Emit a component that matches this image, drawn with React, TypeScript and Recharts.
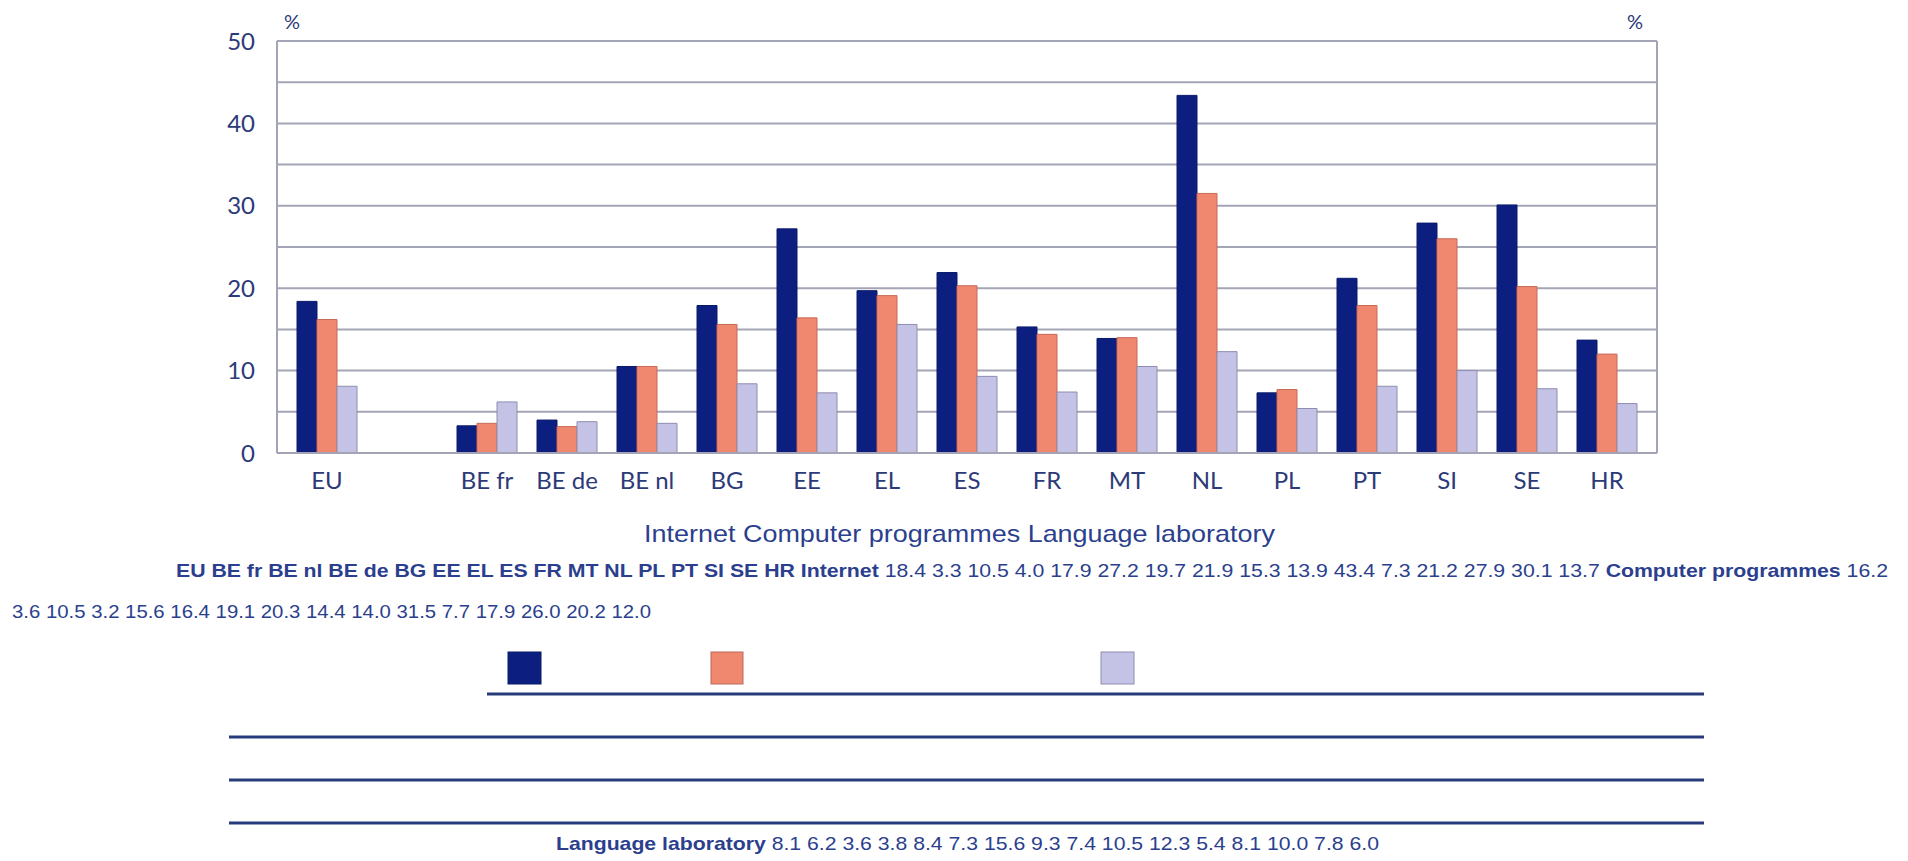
import React from 'react';
import { BarChart, Bar, XAxis, YAxis, CartesianGrid } from 'recharts';

// order used in the data table printed under the chart
const tableCountries = ['EU', 'BE fr', 'BE nl', 'BE de', 'BG', 'EE', 'EL', 'ES', 'FR', 'MT', 'NL', 'PL', 'PT', 'SI', 'SE', 'HR'];
const internet = [18.4, 3.3, 10.5, 4.0, 17.9, 27.2, 19.7, 21.9, 15.3, 13.9, 43.4, 7.3, 21.2, 27.9, 30.1, 13.7];
const computerProgrammes = [16.2, 3.6, 10.5, 3.2, 15.6, 16.4, 19.1, 20.3, 14.4, 14.0, 31.5, 7.7, 17.9, 26.0, 20.2, 12.0];
const languageLab = [8.1, 6.2, 3.6, 3.8, 8.4, 7.3, 15.6, 9.3, 7.4, 10.5, 12.3, 5.4, 8.1, 10.0, 7.8, 6.0];

// order of the bars on the chart ('' is the empty slot after EU)
const chartOrder = ['EU', '', 'BE fr', 'BE de', 'BE nl', 'BG', 'EE', 'EL', 'ES', 'FR', 'MT', 'NL', 'PL', 'PT', 'SI', 'SE', 'HR'];
const seriesNames = ['Internet', 'Computer programmes', 'Language laboratory'];
const yTicks = [0, 10, 20, 30, 40, 50];
const gridValues = [0, 5, 10, 15, 20, 25, 30, 35, 40, 45, 50];

const rows = chartOrder.map((name) => {
  const i = tableCountries.indexOf(name);
  return {
    name,
    internet: i >= 0 ? internet[i] : null,
    computer: i >= 0 ? computerProgrammes[i] : null,
    lang: i >= 0 ? languageLab[i] : null,
  };
});

const NAVY = '#0c1f80';
const SALMON = '#f0876f';
const LAVENDER = '#c5c3e5';
const GRID = '#a3a5b6';
const AXIS_TEXT = '#2d3a78';
const TEXT_BLUE = '#2b3f8e';
const RULE = '#283c7c';

const tickFont = { fontFamily: 'Lato, "Open Sans", sans-serif', fontSize: 24, fill: AXIS_TEXT };
const fmt = (v: number[]) => v.map((x) => x.toFixed(1)).join(' ');

export default function App() {
  return (
    <div style={{ position: 'absolute', left: 0, top: 0, width: 1908, height: 861, background: '#fff' }}>
      <BarChart
        width={1908}
        height={861}
        data={rows}
        margin={{ top: 41, left: 217, right: 191, bottom: 378 }}
        barCategoryGap={10}
        barGap={0}
      >
        <CartesianGrid yAxisId="l" vertical={false} horizontalValues={gridValues} stroke={GRID} strokeWidth={2} />
        <XAxis
          dataKey="name"
          height={30}
          interval={0}
          padding={{ left: 10, right: 10 }}
          axisLine={{ stroke: GRID, strokeWidth: 2 }}
          tickLine={false}
          tickSize={0}
          tickMargin={19}
          tick={tickFont}
        />
        <YAxis
          yAxisId="l"
          orientation="left"
          width={60}
          domain={[0, 50]}
          ticks={yTicks}
          axisLine={{ stroke: GRID, strokeWidth: 2 }}
          tickLine={false}
          tickSize={0}
          tickMargin={22}
          tick={tickFont}
        />
        <YAxis
          yAxisId="r"
          orientation="right"
          width={60}
          domain={[0, 50]}
          ticks={yTicks}
          axisLine={{ stroke: GRID, strokeWidth: 2 }}
          tickLine={false}
          tickSize={0}
          tickMargin={21}
          tick={tickFont}
        />
        <Bar yAxisId="l" name={seriesNames[0]} dataKey="internet" fill={NAVY} stroke="#0a1a6a" strokeWidth={1} isAnimationActive={false} />
        <Bar yAxisId="l" name={seriesNames[1]} dataKey="computer" fill={SALMON} stroke="#c86a58" strokeWidth={1} isAnimationActive={false} />
        <Bar yAxisId="l" name={seriesNames[2]} dataKey="lang" fill={LAVENDER} stroke="#8e8cb0" strokeWidth={1} isAnimationActive={false} />
      </BarChart>

      <svg width={1908} height={861} style={{ position: 'absolute', left: 0, top: 0, pointerEvents: 'none' }}>
        <text x={292} y={29} textAnchor="middle" fontFamily="Lato, sans-serif" fontSize={20} fill={AXIS_TEXT}>%</text>
        <text x={1635} y={29} textAnchor="middle" fontFamily="Lato, sans-serif" fontSize={20} fill={AXIS_TEXT}>%</text>

        <g fontFamily='"Liberation Sans Narrow", "Liberation Sans", Arial, sans-serif' fill={TEXT_BLUE}>
          <text x={644} y={542} fontSize={24} textLength={631} lengthAdjust="spacingAndGlyphs">
            {seriesNames.join(' ')}
          </text>
          <text x={176} y={577} fontSize={19} textLength={1712} lengthAdjust="spacingAndGlyphs">
            <tspan fontWeight="bold">{tableCountries.join(' ')} {seriesNames[0]}</tspan>
            <tspan> {fmt(internet)} </tspan>
            <tspan fontWeight="bold">{seriesNames[1]}</tspan>
            <tspan> {fmt(computerProgrammes.slice(0, 1))}</tspan>
          </text>
          <text x={12} y={618} fontSize={19} textLength={639} lengthAdjust="spacingAndGlyphs">
            {fmt(computerProgrammes.slice(1))}
          </text>
          <text x={556} y={850} fontSize={19} textLength={823} lengthAdjust="spacingAndGlyphs">
            <tspan fontWeight="bold">{seriesNames[2]}</tspan>
            <tspan> {fmt(languageLab)}</tspan>
          </text>
        </g>

        <rect x={508} y={652} width={33} height={32} fill={NAVY} stroke="#0a1a6a" />
        <rect x={711} y={652} width={32} height={32} fill={SALMON} stroke="#b86a5a" />
        <rect x={1101} y={652} width={33} height={32} fill={LAVENDER} stroke="#8e8cb0" />

        <line x1={487} x2={1704} y1={694} y2={694} stroke={RULE} strokeWidth={3} />
        <line x1={229} x2={1704} y1={737} y2={737} stroke={RULE} strokeWidth={3} />
        <line x1={229} x2={1704} y1={780} y2={780} stroke={RULE} strokeWidth={3} />
        <line x1={229} x2={1704} y1={823} y2={823} stroke={RULE} strokeWidth={3} />
      </svg>
    </div>
  );
}
